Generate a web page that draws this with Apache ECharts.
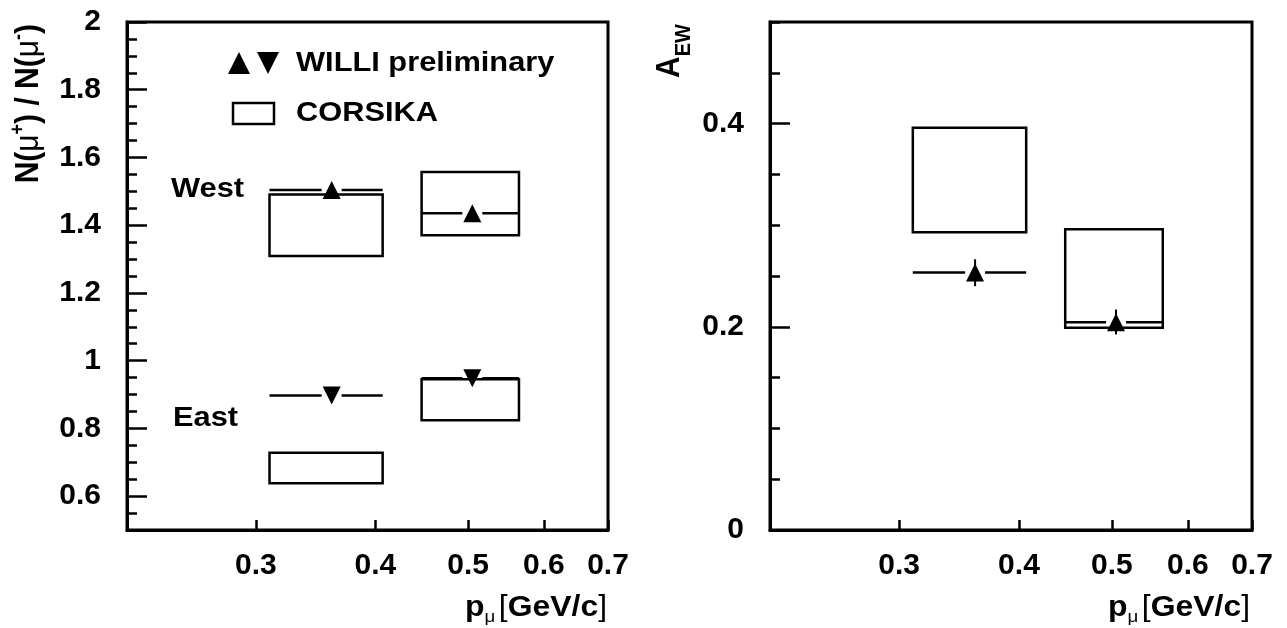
<!DOCTYPE html>
<html><head><meta charset="utf-8">
<script src="https://cdn.jsdelivr.net/npm/echarts@6/dist/echarts.min.js"></script>
<style>html,body{margin:0;padding:0;background:#fff;} #c{width:1287px;height:628px;}</style>
</head><body><div id="c"></div>
<script>
// ---- data ----
const binLow = [0.31, 0.447];
const binHigh = [0.407, 0.565];
const pMean = [0.36, 0.505];
const xTickValues = [0.3, 0.4, 0.5, 0.6, 0.7];
const ratioTickValues = [0.6, 0.8, 1.0, 1.2, 1.4, 1.6, 1.8, 2.0];
const aewTickValues = [0, 0.2, 0.4];
// N(mu+)/N(mu-) panel
const westWilli = [1.504, 1.435];
const westCorsikaLow = [1.309, 1.370];
const westCorsikaHigh = [1.491, 1.557];
const eastWilli = [0.897, 0.948];
const eastCorsikaLow = [0.638, 0.824];
const eastCorsikaHigh = [0.728, 0.945];
// A_EW panel
const aewWilli = [0.2535, 0.2046];
const aewWilliLow = [0.240, 0.1925];
const aewWilliHigh = [0.2665, 0.217];
const aewCorsikaLow = [0.293, 0.199];
const aewCorsikaHigh = [0.396, 0.296];

// ---- chart ----
const FONT = "'Liberation Sans', Arial, Helvetica, sans-serif";
const BLACK = '#000';
const LW = 2.5;
const STRETCH = 1.1;

function fmt(v) { return String(parseFloat(Number(v).toFixed(2))); }

function xAxisCfg(gi) {
  return {
    type: 'log', logBase: 10, gridIndex: gi, min: 0.22, max: 0.7,
    axisLine: { show: true, onZero: false, lineStyle: { color: BLACK, width: 3 } },
    axisTick: { show: true, inside: true, length: 10, customValues: xTickValues, lineStyle: { color: BLACK, width: 2.5 } },
    axisLabel: { show: true, customValues: xTickValues, margin: 21, color: BLACK, fontFamily: FONT, fontWeight: 'bold', fontSize: 30, formatter: v => fmt(v) },
    splitLine: { show: false }, minorTick: { show: false }, minorSplitLine: { show: false }
  };
}
function yMinorCfg(gi, min, max) {
  return {
    type: 'value', gridIndex: gi, min, max, interval: 0.05, position: 'left',
    axisLine: { show: true, onZero: false, lineStyle: { color: BLACK, width: 3 } },
    axisTick: { show: true, inside: true, length: 10, lineStyle: { color: BLACK, width: 2.5 } },
    axisLabel: { show: false }, splitLine: { show: false }
  };
}
function yMajorCfg(gi, min, max, ticks) {
  return {
    type: 'value', gridIndex: gi, min, max, position: 'left',
    axisLine: { show: false },
    axisTick: { show: true, inside: true, length: 20, customValues: ticks, lineStyle: { color: BLACK, width: 2.5 } },
    axisLabel: { show: true, customValues: ticks, margin: 26, color: BLACK, fontFamily: FONT, fontWeight: 'bold', fontSize: 30, formatter: v => fmt(v) },
    splitLine: { show: false }
  };
}

function boxSeries(xi, yi, lows, highs) {
  return {
    type: 'custom', xAxisIndex: xi, yAxisIndex: yi, z: 2,
    encode: { x: [0, 1], y: [2, 3] },
    data: binLow.map((lo, i) => [lo, binHigh[i], lows[i], highs[i]]),
    renderItem(params, api) {
      const p0 = api.coord([api.value(0), api.value(3)]);
      const p1 = api.coord([api.value(1), api.value(2)]);
      return { type: 'rect', shape: { x: p0[0], y: p0[1], width: p1[0] - p0[0], height: p1[1] - p0[1] },
               style: { fill: 'none', stroke: BLACK, lineWidth: LW } };
    }
  };
}
function barSeries(xi, yi, vals, lo, hi) {
  return {
    type: 'custom', xAxisIndex: xi, yAxisIndex: yi, z: 3,
    encode: { x: [0, 1, 2], y: [3, 4, 5] },
    data: binLow.map((l, i) => [l, binHigh[i], pMean[i], vals[i], lo ? lo[i] : vals[i], hi ? hi[i] : vals[i]]),
    renderItem(params, api) {
      const pl = api.coord([api.value(0), api.value(3)]);
      const pr = api.coord([api.value(1), api.value(3)]);
      const pc = api.coord([api.value(2), api.value(3)]);
      const e0 = api.coord([api.value(2), api.value(4)]);
      const e1 = api.coord([api.value(2), api.value(5)]);
      const gap = 10;
      const st = { stroke: BLACK, lineWidth: LW };
      return { type: 'group', children: [
        { type: 'line', shape: { x1: pl[0], y1: pl[1], x2: pc[0] - gap, y2: pc[1] }, style: st },
        { type: 'line', shape: { x1: pc[0] + gap, y1: pc[1], x2: pr[0], y2: pr[1] }, style: st },
        { type: 'line', shape: { x1: e0[0], y1: e0[1], x2: e1[0], y2: e1[1] }, style: { stroke: BLACK, lineWidth: 2 } }
      ] };
    }
  };
}
function markerSeries(xi, yi, vals, down) {
  return {
    type: 'scatter', xAxisIndex: xi, yAxisIndex: yi, z: 5,
    symbol: 'triangle', symbolSize: 18, symbolRotate: down ? 180 : 0,
    itemStyle: { color: BLACK, opacity: 1 },
    data: pMean.map((x, i) => [x, vals[i]])
  };
}

const bold = (size, extra) => Object.assign({ fontSize: size, fontWeight: 'bold', fontFamily: FONT, fill: BLACK }, extra || {});
const norm = (size, extra) => Object.assign({ fontSize: size, fontWeight: 'normal', fontFamily: FONT, fill: BLACK }, extra || {});

function xTitle(rightX) {
  return {
    type: 'text', x: rightX, y: 593, scaleX: STRETCH, z: 10,
    style: {
      text: '{b|p}{s|μ} {n|[}{b|GeV/c}{n|]}', align: 'right', verticalAlign: 'top',
      rich: { b: bold(29, { verticalAlign: 'top' }), n: norm(29, { verticalAlign: 'top' }), s: norm(17, { verticalAlign: 'bottom', padding: [16, 0, 0, 0] }) }
    }
  };
}
function plainText(x, y, txt, size) {
  return { type: 'text', x, y, scaleX: STRETCH, z: 10,
    style: { text: txt, align: 'left', verticalAlign: 'middle', font: `bold ${size}px ${FONT}`, fill: BLACK } };
}

const option = {
  backgroundColor: '#fff',
  animation: false,
  grid: [
    { left: 127, top: 22, width: 481, height: 508, show: true, borderColor: BLACK, borderWidth: 3, backgroundColor: 'transparent' },
    { left: 770, top: 22, width: 482, height: 508, show: true, borderColor: BLACK, borderWidth: 3, backgroundColor: 'transparent' }
  ],
  xAxis: [xAxisCfg(0), xAxisCfg(1)],
  yAxis: [yMinorCfg(0, 0.5, 2), yMajorCfg(0, 0.5, 2, ratioTickValues), yMinorCfg(1, 0, 0.5), yMajorCfg(1, 0, 0.5, aewTickValues)],
  series: [
    boxSeries(0, 0, westCorsikaLow, westCorsikaHigh),
    boxSeries(0, 0, eastCorsikaLow, eastCorsikaHigh),
    barSeries(0, 0, westWilli),
    barSeries(0, 0, eastWilli),
    markerSeries(0, 0, westWilli, false),
    markerSeries(0, 0, eastWilli, true),
    boxSeries(1, 2, aewCorsikaLow, aewCorsikaHigh),
    barSeries(1, 2, aewWilli, aewWilliLow, aewWilliHigh),
    markerSeries(1, 2, aewWilli, false)
  ],
  graphic: [
    // legend
    { type: 'polygon', shape: { points: [[228, 74], [250, 74], [239, 52]] }, style: { fill: BLACK } },
    { type: 'polygon', shape: { points: [[257, 52], [279, 52], [268, 74]] }, style: { fill: BLACK } },
    plainText(296, 63, 'WILLI preliminary', 28),
    { type: 'rect', shape: { x: 233, y: 103, width: 41, height: 21 }, style: { fill: 'none', stroke: BLACK, lineWidth: LW } },
    plainText(296, 113, 'CORSIKA', 28),
    // region labels
    plainText(171, 189, 'West', 28),
    plainText(173, 418, 'East', 28),
    // axis titles
    xTitle(607), xTitle(1250),
    { type: 'text', x: 27, y: 24, rotation: Math.PI / 2, scaleY: STRETCH, z: 10,
      style: { text: '{b|N(}{m|μ}{p|+}{b|) / N(}{m|μ}{p|-}{b|)}', align: 'right', verticalAlign: 'middle',
        rich: { b: bold(30, { verticalAlign: 'bottom' }), m: norm(30, { verticalAlign: 'bottom' }), p: bold(18, { verticalAlign: 'top', padding: [0, 0, 15, 0] }) } } },
    { type: 'text', x: 674, y: 24, rotation: Math.PI / 2, scaleY: STRETCH, z: 10,
      style: { text: '{a|A}{s|EW}', align: 'right', verticalAlign: 'middle',
        rich: { a: bold(30, { verticalAlign: 'top' }), s: bold(20, { verticalAlign: 'bottom', padding: [18, 0, 0, 0] }) } } }
  ]
};

const chart = echarts.init(document.getElementById('c'), null, { renderer: 'canvas' });
chart.setOption(option);
</script>
</body></html>
